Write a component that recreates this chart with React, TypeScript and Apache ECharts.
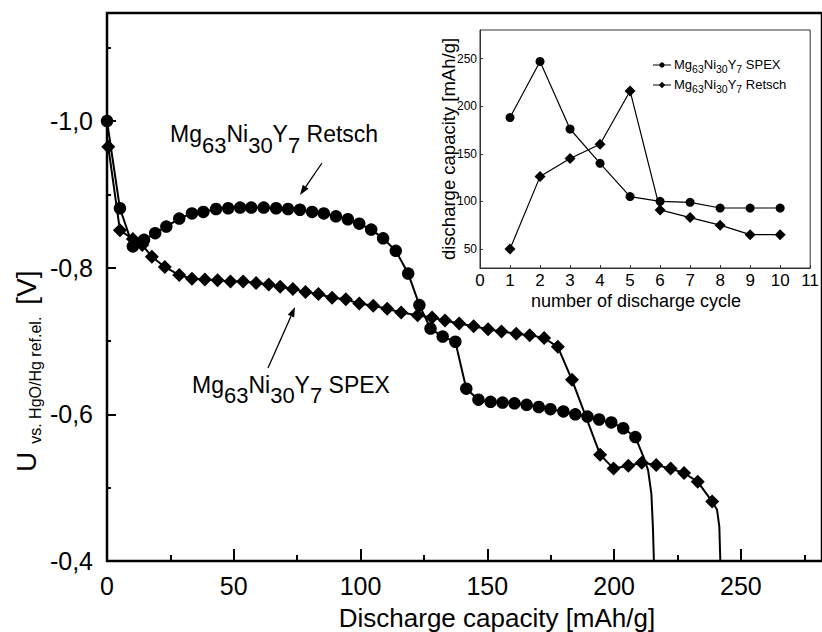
import React, { useEffect, useRef } from "react";
import * as echarts from "echarts";

const FONT = '"Liberation Sans", Arial, Helvetica, sans-serif';

// ---------- main chart: U [V] vs discharge capacity [mAh/g] ----------
// Retsch curve (circles), marked points
const retschPoints: [number, number][] = [
  [0, -1.0], [5.1, -0.881], [10.2, -0.829], [14.6, -0.838], [19.0, -0.847], [23.4, -0.856],
  [28.5, -0.867], [33.5, -0.874], [38.0, -0.876], [43.0, -0.88], [47.8, -0.881], [52.5, -0.882],
  [56.9, -0.882], [61.8, -0.882], [66.7, -0.881], [71.4, -0.88], [76.1, -0.879], [80.9, -0.876],
  [85.5, -0.874], [90.3, -0.87], [95.0, -0.866], [99.5, -0.86], [104.2, -0.852], [108.9, -0.84],
  [113.9, -0.823], [118.8, -0.792], [123.2, -0.749], [127.6, -0.717], [132.4, -0.706], [137.4, -0.699],
  [141.7, -0.635], [146.5, -0.62], [151.3, -0.617], [156.0, -0.616], [160.7, -0.615], [165.5, -0.613],
  [170.3, -0.61], [174.9, -0.607], [180.0, -0.604], [184.7, -0.6], [189.5, -0.597], [194.1, -0.593],
  [198.9, -0.589], [203.6, -0.581], [208.4, -0.569],
];
// Retsch curve, unmarked end (cut-off drop)
const retschTail: [number, number][] = [
  [211.6, -0.542], [213.4, -0.524], [214.7, -0.492], [215.3, -0.447], [215.7, -0.4],
];
// SPEX curve (diamonds), marked points
const spexPoints: [number, number][] = [
  [0.5, -0.965], [5.1, -0.851], [10.2, -0.839], [13.9, -0.831], [17.7, -0.815], [22.8, -0.801],
  [28.5, -0.79], [33.5, -0.785], [38.6, -0.784], [43.6, -0.783], [48.7, -0.781], [53.7, -0.781],
  [58.8, -0.779], [63.8, -0.777], [68.3, -0.774], [73.3, -0.771], [78.3, -0.767], [83.4, -0.764],
  [88.8, -0.759], [94.2, -0.757], [99.5, -0.751], [105.0, -0.748], [110.5, -0.744], [116.0, -0.739],
  [122.5, -0.735], [128.2, -0.732], [133.3, -0.728], [138.9, -0.724], [144.6, -0.72], [150.3, -0.716],
  [155.6, -0.713], [161.4, -0.71], [166.7, -0.708], [172.4, -0.704], [177.8, -0.692], [183.4, -0.647],
  [194.5, -0.545], [199.8, -0.526], [205.6, -0.53], [210.9, -0.534], [216.6, -0.531], [222.3, -0.526],
  [227.6, -0.52], [233.0, -0.508], [238.7, -0.481],
];
// SPEX curve, unmarked end
const spexTail: [number, number][] = [[240.6, -0.47], [241.5, -0.447], [241.9, -0.4]];

// tick values
const mainYMajor = [-1.0, -0.8, -0.6, -0.4];
const mainYMinor = [-1.1, -0.9, -0.7, -0.5];
const mainXMajor = [0, 50, 100, 150, 200, 250];
const mainXMinor = [25, 75, 125, 175, 225, 275];

// ---------- inset: discharge capacity vs cycle ----------
const cycles = [1, 2, 3, 4, 5, 6, 7, 8, 9, 10];
const insetSpex = [188, 247, 176, 140, 105, 100, 99, 93, 93, 93];
const insetRetsch = [50, 126, 145, 160, 216, 91, 83, 75, 65, 65];
const insetXTicks = [0, 1, 2, 3, 4, 5, 6, 7, 8, 9, 10, 11];
const insetYTicks = [50, 100, 150, 200, 250];

// ---------- text helpers ----------
let measureCtx: CanvasRenderingContext2D | null = null;
function textWidth(t: string, size: number): number {
  if (!measureCtx) measureCtx = document.createElement("canvas").getContext("2d");
  if (!measureCtx) return t.length * size * 0.55;
  measureCtx.font = `${size}px ${FONT}`;
  return measureCtx.measureText(t).width;
}
type Seg = { t: string; size: number; dy?: number; gap?: number };
function txt(t: string, size: number, x: number, baseline: number, align = "left"): any {
  return {
    type: "text",
    x,
    y: baseline - 0.3465 * size,
    silent: true,
    style: {
      text: t,
      fill: "#000",
      font: `${size}px ${FONT}`,
      fontSize: size,
      fontFamily: FONT,
      align,
      textAlign: align,
      verticalAlign: "middle",
      textVerticalAlign: "middle",
    },
  };
}
function segText(segs: Seg[], x: number, baseline: number): any[] {
  let cx = x;
  const out: any[] = [];
  for (const s of segs) {
    cx += s.gap || 0;
    out.push(txt(s.t, s.size, cx, baseline + (s.dy || 0)));
    cx += textWidth(s.t, s.size);
  }
  return out;
}
function formula(size: number, sub: number, dy: number, tail: string): Seg[] {
  return [
    { t: "Mg", size }, { t: "63", size: sub, dy }, { t: "Ni", size }, { t: "30", size: sub, dy },
    { t: "Y", size }, { t: "7", size: sub, dy }, { t: tail, size },
  ];
}
function arrow(x1: number, y1: number, x2: number, y2: number): any[] {
  const dx = x2 - x1, dy = y2 - y1;
  const len = Math.sqrt(dx * dx + dy * dy);
  const ux = dx / len, uy = dy / len;
  const L = 10, W = 3.5;
  const bx = x2 - ux * L, by = y2 - uy * L;
  return [
    { type: "line", silent: true, shape: { x1, y1, x2: bx, y2: by }, style: { stroke: "#000", lineWidth: 1.3 } },
    {
      type: "polygon", silent: true,
      shape: { points: [[x2, y2], [bx - uy * W, by + ux * W], [bx + uy * W, by - ux * W]] },
      style: { fill: "#000" },
    },
  ];
}

function fmtMainY(v: number): string {
  return (Math.round(v * 10) / 10).toFixed(1).replace(".", ",");
}

function buildOption(): any {
  const graphic: any[] = [];
  // main y-axis title (rotated)
  graphic.push({
    type: "group",
    x: 36,
    y: 472,
    rotation: Math.PI / 2,
    children: segText(
      [
        { t: "U", size: 28 },
        { t: "vs. HgO/Hg ref.el.", size: 16, dy: 5, gap: 8 },
        { t: "[V]", size: 28, gap: 12 },
      ],
      0,
      0
    ),
  });
  // main x-axis title
  graphic.push(txt("Discharge capacity [mAh/g]", 26, 497, 627, "center"));
  // annotations
  graphic.push(...segText(formula(23, 22, 11, " Retsch"), 170, 142));
  graphic.push(...segText(formula(23, 22, 10, " SPEX"), 192, 393));
  graphic.push(...arrow(322, 163, 300, 195));
  graphic.push(...arrow(268, 368, 295, 307));
  // inset titles
  graphic.push({
    type: "group",
    x: 455,
    y: 149,
    rotation: Math.PI / 2,
    children: [txt("discharge capacity [mAh/g]", 18.5, 0, 0, "center")],
  });
  graphic.push(txt("number of discharge cycle", 18, 636, 307, "center"));
  // inset legend
  const legY = [65, 85];
  legY.forEach((y, i) => {
    graphic.push({ type: "line", silent: true, shape: { x1: 653, y1: y, x2: 671, y2: y }, style: { stroke: "#000", lineWidth: 1 } });
    if (i === 0) {
      graphic.push({ type: "circle", silent: true, shape: { cx: 662, cy: y, r: 2.6 }, style: { fill: "#000" } });
    } else {
      graphic.push({
        type: "polygon", silent: true,
        shape: { points: [[662, y - 3.2], [665.2, y], [662, y + 3.2], [658.8, y]] },
        style: { fill: "#000" },
      });
    }
    graphic.push(...segText(formula(13, 10.5, 3, i === 0 ? " SPEX" : " Retsch"), 674, y + 4.5));
  });

  const tickStyle = { color: "#000", width: 2 };
  return {
    animation: false,
    backgroundColor: "#fff",
    grid: [
      { left: 107, top: 13, right: -29, bottom: 71, show: true, borderColor: "#000", borderWidth: 2.5, backgroundColor: "transparent" },
      { left: 480, top: 30, width: 331, height: 238, show: true, borderColor: "#333", borderWidth: 1, backgroundColor: "#fff" },
    ],
    xAxis: [
      {
        type: "value", gridIndex: 0, min: 0, max: 282, position: "bottom",
        axisLine: { show: true, onZero: false, lineStyle: { color: "#000", width: 2 } },
        axisTick: { show: true, inside: true, length: 12, lineStyle: tickStyle, customValues: mainXMajor },
        axisLabel: { fontSize: 25, fontFamily: FONT, color: "#000", margin: 12, customValues: mainXMajor },
        splitLine: { show: false },
      },
      {
        type: "value", gridIndex: 0, min: 0, max: 282, position: "bottom",
        axisLine: { show: false, onZero: false },
        axisTick: { show: true, inside: true, length: 6, lineStyle: tickStyle, customValues: mainXMinor },
        axisLabel: { show: false },
        splitLine: { show: false },
      },
      {
        type: "value", gridIndex: 1, min: 0, max: 11, position: "bottom",
        axisLine: { show: true, onZero: false, lineStyle: { color: "#333", width: 1 } },
        axisTick: { show: true, inside: true, length: 3, lineStyle: { color: "#333", width: 1 }, customValues: insetXTicks },
        axisLabel: { fontSize: 17, fontFamily: FONT, color: "#000", margin: 4, customValues: insetXTicks },
        splitLine: { show: false },
      },
    ],
    yAxis: [
      {
        type: "value", gridIndex: 0, inverse: true, min: -1.1473, max: -0.4, position: "left",
        axisLine: { show: true, onZero: false, lineStyle: { color: "#000", width: 2 } },
        axisTick: { show: true, inside: true, length: 9, lineStyle: tickStyle, customValues: mainYMajor },
        axisLabel: { fontSize: 25, fontFamily: FONT, color: "#000", margin: 14, formatter: fmtMainY, customValues: mainYMajor },
        splitLine: { show: false },
      },
      {
        type: "value", gridIndex: 0, inverse: true, min: -1.1473, max: -0.4, position: "left",
        axisLine: { show: false, onZero: false },
        axisTick: { show: true, inside: true, length: 4, lineStyle: tickStyle, customValues: mainYMinor },
        axisLabel: { show: false },
        splitLine: { show: false },
      },
      {
        type: "value", gridIndex: 1, min: 30, max: 280, position: "left",
        axisLine: { show: true, onZero: false, lineStyle: { color: "#333", width: 1 } },
        axisTick: { show: true, inside: true, length: 3, lineStyle: { color: "#333", width: 1 }, customValues: insetYTicks },
        axisLabel: { fontSize: 12, fontFamily: FONT, color: "#000", margin: 3, customValues: insetYTicks },
        splitLine: { show: false },
      },
    ],
    series: [
      {
        name: "Retsch", type: "line", xAxisIndex: 0, yAxisIndex: 0, silent: true,
        data: [...retschPoints, ...retschTail.map((p) => ({ value: p, symbol: "none" }))],
        symbol: "circle", symbolSize: 12.5,
        lineStyle: { color: "#000", width: 2 }, itemStyle: { color: "#000" },
      },
      {
        name: "SPEX", type: "line", xAxisIndex: 0, yAxisIndex: 0, silent: true,
        data: [...spexPoints, ...spexTail.map((p) => ({ value: p, symbol: "none" }))],
        symbol: "diamond", symbolSize: 14,
        lineStyle: { color: "#000", width: 2 }, itemStyle: { color: "#000" },
      },
      {
        name: "inset SPEX", type: "line", xAxisIndex: 2, yAxisIndex: 2, silent: true,
        data: cycles.map((c, i) => [c, insetSpex[i]]),
        symbol: "circle", symbolSize: 9,
        lineStyle: { color: "#000", width: 1.2 }, itemStyle: { color: "#000" },
      },
      {
        name: "inset Retsch", type: "line", xAxisIndex: 2, yAxisIndex: 2, silent: true,
        data: cycles.map((c, i) => [c, insetRetsch[i]]),
        symbol: "diamond", symbolSize: 11,
        lineStyle: { color: "#000", width: 1.2 }, itemStyle: { color: "#000" },
      },
    ],
    graphic,
  };
}

export default function App() {
  const ref = useRef<HTMLDivElement>(null);
  useEffect(() => {
    if (!ref.current) return;
    const chart = echarts.init(ref.current, undefined, { renderer: "svg" });
    chart.setOption(buildOption());
    return () => {
      chart.dispose();
    };
  }, []);
  return (
    <div
      ref={ref}
      style={{ position: "absolute", left: 0, top: 0, width: 822, height: 632, background: "#fff" }}
    />
  );
}
